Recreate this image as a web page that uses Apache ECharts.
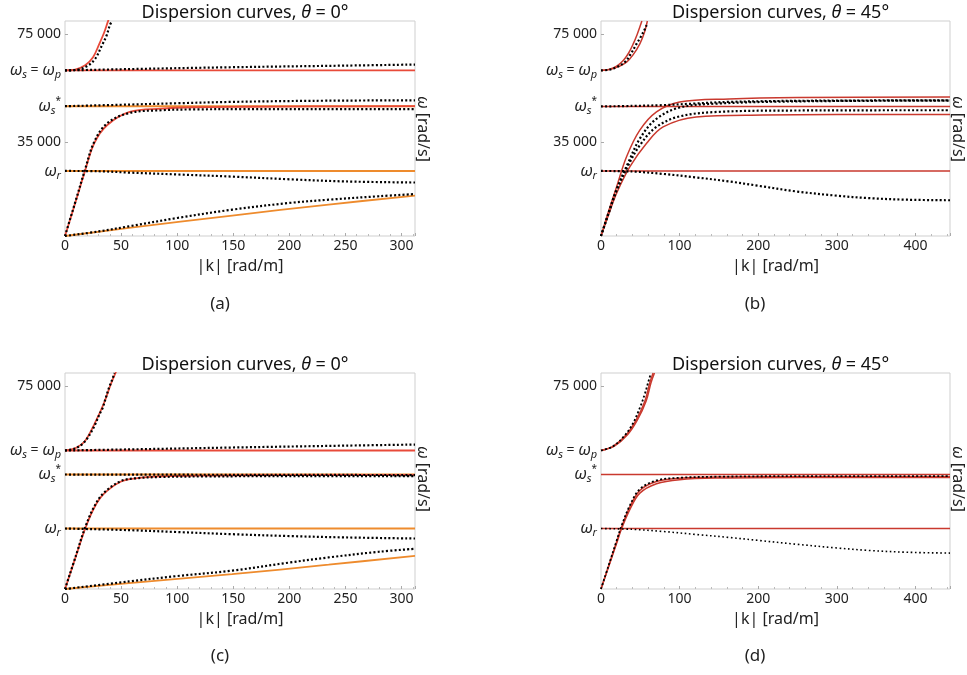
<!DOCTYPE html>
<html>
<head>
<meta charset="UTF-8">
<title>Dispersion curves</title>
<script src="https://cdn.jsdelivr.net/npm/echarts@6/dist/echarts.min.js"></script>
<style>
  html, body { margin: 0; padding: 0; background: #fff; }
  #main { width: 967px; height: 675px; }
</style>
</head>
<body>
<div id="main"></div>
<script>
// ---- panel (a): theta = 0, top left ----
var aWp = 61600, aWs = 48300, aWr = 24200, aKmax = 312;
var aUpRedK = [0, 9, 18, 25, 30.6, 35, 38, 40.5];
var aUpRedW = [61600, 61900, 63500, 66500, 71500, 75800, 79500, 82500];
var aUpDotK = [0, 10, 20, 27, 33, 37, 40, 42];
var aUpDotW = [61600, 61800, 63300, 66000, 71000, 74500, 78500, 80000];
var aWpDotK = [0, 57, 149, 250, 312];
var aWpDotW = [61600, 62100, 62800, 63400, 63800];
var aWsDotK = [0, 57, 100, 149, 220, 312];
var aWsDotW = [48300, 48900, 49400, 49900, 50300, 50500];
var aSatK = [0, 10, 17.7, 26, 37.7, 57.7, 86, 114, 160, 220, 312];
var aSatRedW = [0, 13500, 24000, 34500, 41300, 46200, 47400, 47900, 48100, 48200, 48300];
var aSatDotW = [0, 13800, 24500, 35000, 42000, 45800, 46800, 47100, 47200, 47200, 47200];
var aWrDotK = [0, 30, 57, 100, 149, 200, 250, 312];
var aWrDotW = [24200, 24100, 23600, 22900, 22100, 21100, 20300, 19900];
var aLowK = [0, 57, 149, 235, 312];
var aLowW = [0, 3000, 7600, 11700, 15000];
var aLowDotK = [0, 30, 57, 100, 149, 200, 235, 280, 312];
var aLowDotW = [0, 1700, 3600, 6700, 9800, 12300, 13500, 14800, 15600];

// ---- panel (b): theta = 45, top right ----
var bWp = 61600, bWs = 48200, bWr = 24200, bKmax = 444;
var bUpRedAK = [0, 10, 20, 28.3, 35, 41, 46, 52];
var bUpRedAW = [61600, 62000, 63200, 65300, 68000, 71500, 75000, 80000];
var bUpRedBK = [0, 12, 22, 32.5, 41, 49.4, 55, 59];
var bUpRedBW = [61600, 62000, 63000, 64700, 67500, 71500, 75500, 80000];
var bUpDotK = [0, 11, 21, 30.4, 38, 45.2, 50, 55.8, 58];
var bUpDotW = [61600, 61900, 63000, 64700, 67800, 71500, 73800, 77000, 78500];
var bWsDotK = [0, 40, 79, 120, 163, 250, 444];
var bWsDotW = [48200, 48400, 48700, 49300, 49900, 50300, 50500];
var bSatHiK = [0, 10, 20, 32.5, 49.4, 70.6, 100, 163, 250, 444];
var bSatHiW = [0, 9500, 18400, 29500, 39400, 46200, 49900, 51000, 51500, 51700];
var bSatLoK = [0, 10, 20, 36.8, 58, 79, 121, 206, 300, 444];
var bSatLoW = [0, 8200, 16000, 25800, 34500, 40600, 44300, 45000, 45200, 45200];
var bDotHiK = [0, 10, 20, 35, 50, 70, 100, 150, 250, 444];
var bDotHiW = [0, 9000, 17500, 27500, 36500, 43500, 47800, 49300, 50100, 50400];
var bDotLoK = [0, 10, 20, 35, 50, 70, 100, 150, 250, 444];
var bDotLoW = [0, 8700, 17000, 26500, 34000, 40500, 44500, 46200, 46700, 46800];
var bWrDotK = [0, 40, 79, 121, 163, 200, 248, 300, 340, 390, 444];
var bWrDotW = [24200, 24000, 23100, 21800, 20300, 18700, 16600, 15000, 14100, 13500, 13300];

// ---- panel (c): theta = 0, bottom left ----
var cWp = 51300, cWs = 42400, cWr = 22400, cKmax = 312;
var cUpRedK = [0, 10, 17.7, 26, 34.8, 40.6, 45.5];
var cUpRedW = [51300, 52300, 54700, 60900, 68900, 75600, 80500];
var cUpDotK = [0, 8, 14.9, 19, 23.4, 26.8, 30.6, 33.5, 36.3, 39.1, 42.6, 44];
var cUpDotW = [51300, 51900, 53500, 55300, 58200, 60900, 64600, 67000, 70700, 74400, 78100, 80000];
var cWpDotK = [0, 57, 149, 250, 312];
var cWpDotW = [51300, 51700, 52400, 53100, 53500];
var cWsDotK = [0, 150, 312];
var cWsDotW = [42400, 42300, 42200];
var cSatK = [0, 10, 17.7, 26, 34.8, 50, 63, 86, 130, 200, 312];
var cSatRedW = [0, 12500, 22100, 30100, 35300, 39800, 41000, 41700, 42000, 42200, 42300];
var cSatDotW = [0, 12700, 22500, 30500, 35700, 40000, 41000, 41500, 41700, 41800, 41800];
var cWrDotK = [0, 57, 100, 149, 200, 250, 312];
var cWrDotW = [22400, 21800, 21100, 20300, 19600, 19100, 18700];
var cLowK = [0, 57, 149, 235, 312];
var cLowW = [0, 2200, 5500, 9000, 12300];
var cLowDotK = [0, 57, 100, 149, 200, 235, 280, 312];
var cLowDotW = [0, 2800, 4800, 6800, 9800, 11700, 13800, 14900];

// ---- panel (d): theta = 45, bottom right ----
var dWp = 51300, dWs = 42400, dWr = 22400, dKmax = 444;
var dUpRedAK = [0, 15.6, 32.5, 45, 55.8, 62, 66.3];
var dUpRedAW = [51300, 52900, 57200, 62700, 69500, 76300, 80000];
var dUpRedBK = [0, 17, 34, 46.5, 57.3, 63.5, 68];
var dUpRedBW = [51300, 52900, 57200, 62700, 69500, 76300, 80000];
var dUpDotK = [0, 15, 30, 40, 50, 56, 60, 63];
var dUpDotW = [51300, 52800, 56800, 61000, 67500, 72500, 76500, 79500];
var dSatK = [0, 10, 20, 26, 36.8, 49.4, 70.6, 100, 150, 250, 444];
var dSatRedAW = [0, 8800, 17600, 22800, 30500, 36500, 39800, 41000, 41500, 41600, 41600];
var dSatRedBW = [0, 8500, 17000, 22200, 29500, 35500, 39000, 40500, 41100, 41300, 41300];
var dSatDotW = [0, 9000, 18000, 23300, 31000, 37000, 40200, 41200, 41600, 41800, 41800];
var dWrDotK = [0, 40, 79, 121, 163, 200, 248, 300, 340, 390, 444];
var dWrDotW = [22400, 22100, 21300, 20200, 19100, 18000, 16600, 15200, 14300, 13600, 13300];

var yMax = 80000;
var font = '"Noto Sans", sans-serif';
var red = '#e84a3a', orange = '#ee8b2d', darkRed = '#c9392e';

function pts(ks, ws) {
    return ks.map(function (k, i) { return [k, ws[i]]; });
}
function flat(w, kmax) {
    return [[0, w], [kmax, w]];
}
function curve(idx, data, color, width) {
    return {
        type: 'line', xAxisIndex: idx, yAxisIndex: idx, data: data,
        smooth: 0.35, symbol: 'none', silent: true, z: 2,
        lineStyle: { color: color, width: width || 1.6 }
    };
}
function dots(idx, data, width, dash) {
    return {
        type: 'line', xAxisIndex: idx, yAxisIndex: idx, data: data,
        smooth: 0.35, symbol: 'none', silent: true, z: 3,
        lineStyle: { color: '#000', width: width || 2.2, type: dash || [2, 2.2], cap: 'butt' }
    };
}

var rich = {
    w: { fontFamily: font, fontSize: 16, fontStyle: 'italic', color: '#222', lineHeight: 20 },
    t: { fontFamily: font, fontSize: 14, color: '#222', lineHeight: 20 },
    s: { fontFamily: font, fontSize: 11, fontStyle: 'italic', color: '#222', lineHeight: 10, verticalAlign: 'bottom' },
    st: { fontFamily: font, fontSize: 10, color: '#222', lineHeight: 10, verticalAlign: 'top' }
};

function yLabels(wp, ws, wr) {
    return function (v) {
        if (v === wp) return '{w|ω}{s|s}{t| = }{w|ω}{s|p}';
        if (v === ws) return '{w|ω}{s|s}{st|*}';
        if (v === wr) return '{w|ω}{s|r}';
        return '{t|' + String(v).replace(/(\d\d)(\d{3})$/, '$1 $2') + '}';
    };
}

var grids = [
    { left: 65, top: 21, width: 350, height: 215 },
    { left: 601, top: 21, width: 349, height: 215 },
    { left: 65, top: 373, width: 350, height: 216 },
    { left: 601, top: 373, width: 349, height: 216 }
];
var kMaxes = [aKmax, bKmax, cKmax, dKmax];
var yTicks = [
    [75000, aWp, aWs, 35000, aWr],
    [75000, bWp, bWs, 35000, bWr],
    [75000, cWp, cWs, cWr],
    [75000, dWp, dWs, dWr]
];
var yFmt = [yLabels(aWp, aWs, aWr), yLabels(bWp, bWs, bWr), yLabels(cWp, cWs, cWr), yLabels(dWp, dWs, dWr)];

var chart = echarts.init(document.getElementById('main'));

var option = {
    backgroundColor: '#fff',
    animation: false,
    title: grids.map(function (g, i) {
        return {
            text: 'Dispersion curves, {i|θ} = ' + (i % 2 ? '45' : '0') + '°',
            left: g.left + g.width / 2, top: g.top - 22, textAlign: 'center',
            textStyle: {
                fontFamily: font, fontSize: 18, fontWeight: 'normal', color: '#111',
                rich: { i: { fontFamily: font, fontSize: 18, fontStyle: 'italic', color: '#111' } }
            }
        };
    }),
    grid: grids.map(function (g) {
        return { left: g.left, top: g.top, width: g.width, height: g.height,
            show: true, borderColor: '#cfcfcf', borderWidth: 1, backgroundColor: 'transparent' };
    }),
    xAxis: grids.map(function (g, i) {
        return {
            type: 'value', gridIndex: i, min: 0, max: kMaxes[i], interval: i % 2 ? 100 : 50,
            name: '|k| [rad/m]', nameLocation: 'middle', nameGap: 22,
            nameTextStyle: { fontFamily: font, fontSize: 16, color: '#222' },
            axisLine: { show: false },
            axisTick: { show: true, inside: true, length: 3, lineStyle: { color: '#aaa' } },
            minorTick: { show: true, splitNumber: 5, length: 2, lineStyle: { color: '#bbb' } },
            splitLine: { show: false },
            axisLabel: { fontFamily: font, fontSize: 14, color: '#222', margin: 3, showMaxLabel: false }
        };
    }),
    yAxis: grids.map(function (g, i) {
        return {
            type: 'value', gridIndex: i, min: 0, max: yMax,
            axisLine: { show: false },
            splitLine: { show: false },
            axisTick: { show: true, inside: true, length: 3, customValues: yTicks[i], lineStyle: { color: '#aaa' } },
            axisLabel: { customValues: yTicks[i], formatter: yFmt[i], margin: 4, rich: rich }
        };
    }),
    graphic: [
        { type: 'text', x: 220, y: 304, style: { text: '(a)', font: '17px ' + font, fill: '#222', align: 'center', verticalAlign: 'middle' } },
        { type: 'text', x: 755, y: 304, style: { text: '(b)', font: '17px ' + font, fill: '#222', align: 'center', verticalAlign: 'middle' } },
        { type: 'text', x: 220, y: 656, style: { text: '(c)', font: '17px ' + font, fill: '#222', align: 'center', verticalAlign: 'middle' } },
        { type: 'text', x: 755, y: 656, style: { text: '(d)', font: '17px ' + font, fill: '#222', align: 'center', verticalAlign: 'middle' } }
    ].concat([[423, 129], [958, 129], [423, 479], [958, 479]].map(function (p) {
        return {
            type: 'text', x: p[0], y: p[1], rotation: -Math.PI / 2,
            style: {
                text: '{w|ω} [rad/s]', font: '16px ' + font, fill: '#222', align: 'center', verticalAlign: 'middle',
                rich: { w: { fontFamily: font, fontSize: 16, fontStyle: 'italic', fill: '#222' } }
            }
        };
    })),
    series: [
        // (a)
        curve(0, flat(aWp, aKmax), red, 1.8),
        curve(0, flat(aWs, aKmax), orange, 2),
        curve(0, flat(aWr, aKmax), orange, 2),
        curve(0, pts(aLowK, aLowW), orange, 1.8),
        curve(0, pts(aUpRedK, aUpRedW), red, 1.8),
        curve(0, pts(aSatK, aSatRedW), red, 1.8),
        dots(0, pts(aUpDotK, aUpDotW)),
        dots(0, pts(aWpDotK, aWpDotW)),
        dots(0, pts(aWsDotK, aWsDotW)),
        dots(0, pts(aSatK, aSatDotW)),
        dots(0, pts(aWrDotK, aWrDotW)),
        dots(0, pts(aLowDotK, aLowDotW)),
        // (b)
        curve(1, flat(bWs, bKmax), darkRed, 1.5),
        curve(1, flat(bWr, bKmax), darkRed, 1.5),
        curve(1, pts(bUpRedAK, bUpRedAW), darkRed, 1.5),
        curve(1, pts(bUpRedBK, bUpRedBW), darkRed, 1.5),
        curve(1, pts(bSatHiK, bSatHiW), darkRed, 1.5),
        curve(1, pts(bSatLoK, bSatLoW), darkRed, 1.5),
        dots(1, pts(bUpDotK, bUpDotW)),
        dots(1, pts(bWsDotK, bWsDotW)),
        dots(1, pts(bDotHiK, bDotHiW)),
        dots(1, pts(bDotLoK, bDotLoW)),
        dots(1, pts(bWrDotK, bWrDotW)),
        // (c)
        curve(2, flat(cWp, cKmax), red, 1.8),
        curve(2, flat(cWs, cKmax), orange, 2),
        curve(2, flat(cWr, cKmax), orange, 2),
        curve(2, pts(cLowK, cLowW), orange, 1.8),
        curve(2, pts(cUpRedK, cUpRedW), red, 1.8),
        curve(2, pts(cSatK, cSatRedW), red, 1.8),
        dots(2, pts(cUpDotK, cUpDotW)),
        dots(2, pts(cWpDotK, cWpDotW)),
        dots(2, pts(cWsDotK, cWsDotW)),
        dots(2, pts(cSatK, cSatDotW)),
        dots(2, pts(cWrDotK, cWrDotW)),
        dots(2, pts(cLowDotK, cLowDotW)),
        // (d)
        curve(3, flat(dWs, dKmax), darkRed, 1.5),
        curve(3, flat(dWr, dKmax), darkRed, 1.5),
        curve(3, pts(dUpRedAK, dUpRedAW), darkRed, 1.5),
        curve(3, pts(dUpRedBK, dUpRedBW), darkRed, 1.5),
        curve(3, pts(dSatK, dSatRedAW), darkRed, 1.5),
        curve(3, pts(dSatK, dSatRedBW), darkRed, 1.5),
        dots(3, pts(dUpDotK, dUpDotW), 1.8),
        dots(3, pts(dSatK, dSatDotW), 1.8),
        dots(3, pts(dWrDotK, dWrDotW), 1.6, [1.6, 2.6])
    ]
};

chart.setOption(option);
</script>
</body>
</html>
